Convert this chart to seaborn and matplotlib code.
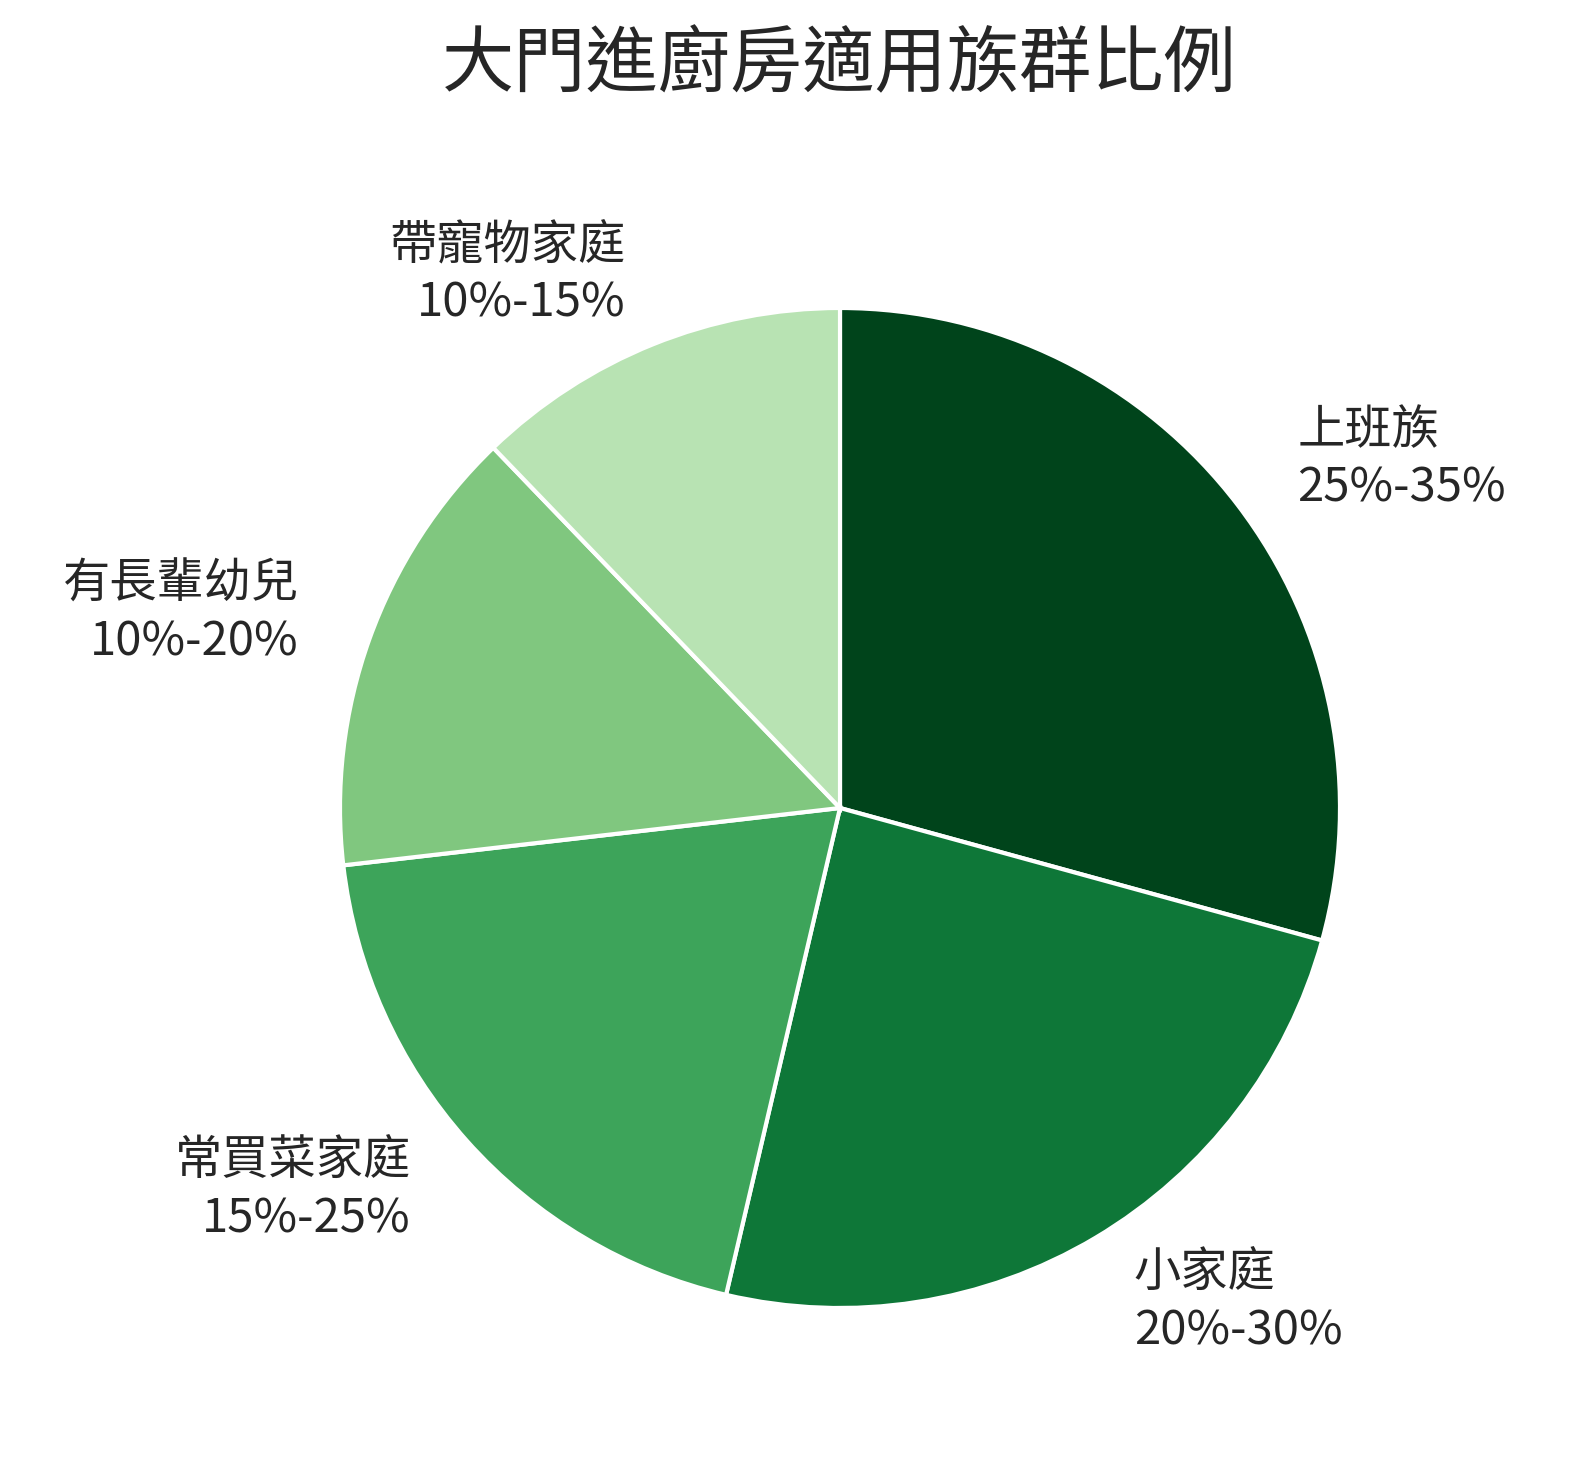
import matplotlib
matplotlib.use("Agg")
import matplotlib.pyplot as plt
import seaborn as sns

categories = ["上班族", "小家庭", "常買菜家庭", "有長輩幼兒", "帶寵物家庭"]
ranges = ["25%-35%", "20%-30%", "15%-25%", "10%-20%", "10%-15%"]
values = [30, 25, 20, 15, 12.5]
colors = ["#00441b", "#0e7738", "#3da45a", "#80c77f", "#b8e3b3"]

sns.set_theme(style="white")
plt.rcParams["font.family"] = "Noto Sans CJK TC"

fig = plt.figure(figsize=(15.69, 14.68), dpi=100)
ax = fig.add_axes([0, 0, 1, 1])
labels = [f"{c}\n{r}" for c, r in zip(categories, ranges)]
ax.pie(values, labels=labels, colors=colors, startangle=90, counterclock=False,
       labeldistance=1.15, radius=1.0,
       wedgeprops=dict(edgecolor="white", linewidth=3),
       textprops=dict(fontsize=34, linespacing=1.25))
ax.set_xlim(-1.68, 1.458)
ax.set_ylim(-1.32, 1.616)
ax.set_aspect("equal")
ax.axis("off")
fig.text(0.535, 0.955, "大門進廚房適用族群比例", ha="center", va="center", fontsize=52)
fig.savefig("out.png", dpi=100)
